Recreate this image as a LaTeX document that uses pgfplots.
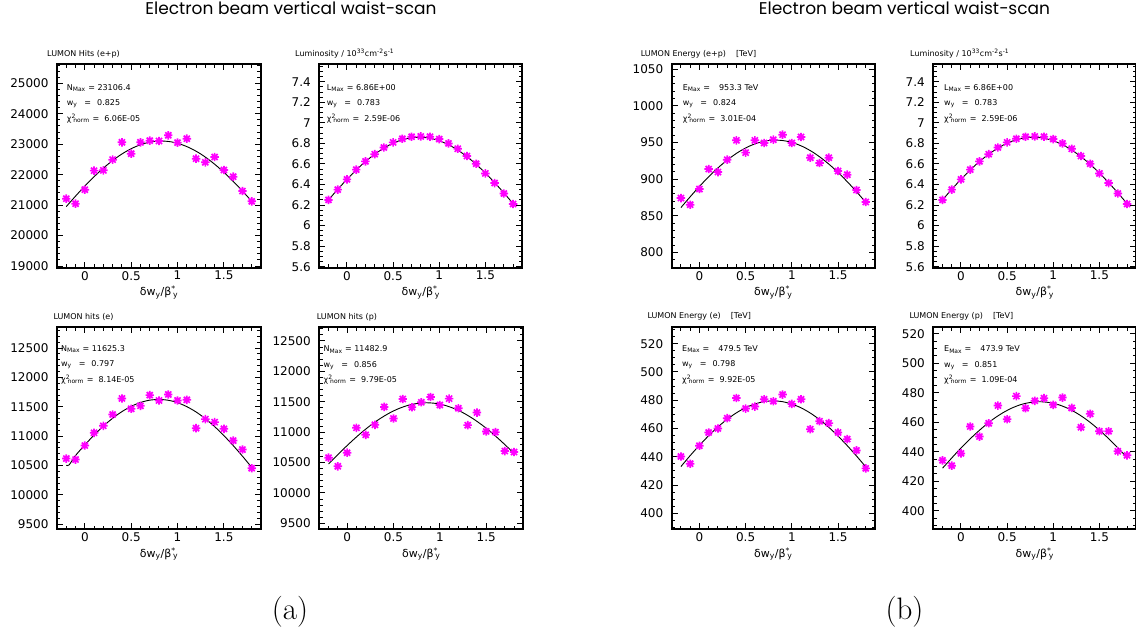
\documentclass[border=0pt]{standalone}
\usepackage{pgfplots}
\pgfplotsset{compat=1.18}
\usepackage{fontspec}
\newfontfamily\dv{DejaVu Sans}
\newfontfamily\pop{Poppins}
\definecolor{mag}{RGB}{255,0,255}

% eight-armed star, like the "*" marker of the original
\pgfdeclareplotmark{star8}{%
  \pgfpathmoveto{\pgfqpoint{-\pgfplotmarksize}{0pt}}%
  \pgfpathlineto{\pgfqpoint{\pgfplotmarksize}{0pt}}%
  \pgfpathmoveto{\pgfqpoint{0pt}{-\pgfplotmarksize}}%
  \pgfpathlineto{\pgfqpoint{0pt}{\pgfplotmarksize}}%
  \pgfpathmoveto{\pgfqpoint{-0.72\pgfplotmarksize}{-0.72\pgfplotmarksize}}%
  \pgfpathlineto{\pgfqpoint{0.72\pgfplotmarksize}{0.72\pgfplotmarksize}}%
  \pgfpathmoveto{\pgfqpoint{-0.72\pgfplotmarksize}{0.72\pgfplotmarksize}}%
  \pgfpathlineto{\pgfqpoint{0.72\pgfplotmarksize}{-0.72\pgfplotmarksize}}%
  \pgfusepathqstroke}

\pgfplotsset{
  panel/.style={
    scale only axis, anchor=north west,
    width=204pt, height=203.4pt,
    xmin=-0.3, xmax=1.9,
    xtick={0,0.5,1,1.5},
    minor xtick={-0.2,-0.1,0.1,0.2,0.3,0.4,0.6,0.7,0.8,0.9,1.1,1.2,1.3,1.4,1.6,1.7,1.8},
    tick align=inside, xtick pos=both, ytick pos=both,
    major tick length=6pt, minor tick length=3.5pt,
    tick style={black, line width=1pt},
    axis line style={line width=1.8pt},
    ticklabel style={font=\dv\fontsize{12}{12}\selectfont},
    yticklabel style={xshift=-5pt},
    /pgf/number format/assume math mode=true,
    /pgf/number format/1000 sep={},
    scaled ticks=false,
    xlabel={δw\textsubscript{y}/β\textsuperscript{*}\hspace{-2.6pt}\textsubscript{y}},
    xlabel style={font=\dv\fontsize{11}{11}\selectfont,
      at={(axis description cs:0.5,0)}, anchor=base, yshift=-28pt},
  },
  pts/.style={only marks, mark=star8, mark size=4.2pt, color=mag,
    mark options={line width=1.7pt}},
  fit/.style={black, line width=0.9pt, no marks, smooth},
}

% three lines of fit results inside a panel
\newcommand{\ann}[5]{%
  \node[anchor=base west, inner sep=0pt, font=\dv\fontsize{8}{8}\selectfont] at (#1pt,-#2pt) {#3};
  \node[anchor=base west, inner sep=0pt, font=\dv\fontsize{8}{8}\selectfont, yshift=-15.5pt] at (#1pt,-#2pt) {#4};
  \node[anchor=base west, inner sep=0pt, font=\dv\fontsize{8}{8}\selectfont, yshift=-31pt] at (#1pt,-#2pt) {#5};
}
\newcommand{\ptitle}[3]{%
  \node[anchor=base west, inner sep=0pt, font=\dv\fontsize{8}{8}\selectfont] at (#1pt,-#2pt) {#3};
}
\newcommand{\wy}[1]{w\textsubscript{y}\hspace{7pt}=\hspace{6pt}#1}
\newcommand{\chin}[1]{χ\textsuperscript{2}\hspace{-2.4pt}\textsubscript{norm}\hspace{3pt}=\hspace{5pt}#1}
\newcommand{\lumi}{Luminosity / 10\textsuperscript{33}cm\textsuperscript{-2}s\textsuperscript{-1}}
\newcommand{\lumimin}{5.65,5.7,5.75,5.85,5.9,5.95,6.05,6.1,6.15,6.25,6.3,6.35,6.45,6.5,6.55,6.65,6.7,6.75,6.85,6.9,6.95,7.05,7.1,7.15,7.25,7.3,7.35,7.45,7.5,7.55}

\begin{document}
\begin{tikzpicture}

% ---------------- (a) ----------------
\begin{axis}[panel, at={(57pt,-64.3pt)}, width=204pt,
  ymin=18945, ymax=25626, ytick={19000,20000,...,25000},
  minor ytick={19200,19400,...,25600}]
\addplot[pts] coordinates {
(-0.2,21212) (-0.1,21048) (0,21508) (0.1,22133) (0.2,22143) (0.3,22494)
(0.4,23064) (0.5,22691) (0.6,23064) (0.7,23118) (0.8,23107) (0.9,23294)
(1.0,23053) (1.1,23184) (1.2,22527) (1.3,22406) (1.4,22581) (1.5,22154)
(1.6,21935) (1.7,21464) (1.8,21125)};
\addplot[fit] coordinates {
(-0.2,20950) (-0.175,21039) (-0.075,21381) (0.025,21705) (0.125,22007)
(0.225,22281) (0.325,22523) (0.425,22727) (0.525,22890) (0.625,23009)
(0.725,23082) (0.825,23106) (0.925,23082) (1.025,23009) (1.125,22890)
(1.225,22727) (1.325,22523) (1.425,22281) (1.525,22007) (1.625,21705)
(1.725,21381) (1.8,21126)};
\end{axis}

\begin{axis}[panel, at={(319.3pt,-64.3pt)}, width=203pt,
  ymin=5.59, ymax=7.57, ytick={5.6,5.8,6,6.2,6.4,6.6,6.8,7,7.2,7.4},
  minor ytick=\lumimin]
\addplot[pts] coordinates {
(-0.2,6.250) (-0.1,6.350) (0,6.450) (0.1,6.545) (0.2,6.625) (0.3,6.695)
(0.4,6.760) (0.5,6.810) (0.6,6.845) (0.7,6.865) (0.8,6.868) (0.9,6.865)
(1.0,6.842) (1.1,6.800) (1.2,6.748) (1.3,6.677) (1.4,6.602) (1.5,6.508)
(1.6,6.414) (1.7,6.312) (1.8,6.210)};
\addplot[fit] coordinates {
(-0.2,6.250) (-0.117,6.336) (-0.017,6.434) (0.083,6.526) (0.183,6.610)
(0.283,6.683) (0.383,6.745) (0.483,6.795) (0.583,6.831) (0.683,6.853)
(0.783,6.860) (0.883,6.853) (0.983,6.831) (1.083,6.795) (1.183,6.745)
(1.283,6.683) (1.383,6.610) (1.483,6.526) (1.583,6.434) (1.683,6.336)
(1.783,6.232) (1.8,6.214)};
\end{axis}

\begin{axis}[panel, at={(57pt,-327pt)}, width=204pt, height=202.3pt,
  ymin=9415, ymax=12858, ytick={9500,10000,...,12500},
  minor ytick={9600,9700,...,12800}]
\addplot[pts] coordinates {
(-0.2,10619) (-0.1,10602) (0,10841) (0.1,11057) (0.2,11176) (0.3,11369)
(0.4,11642) (0.5,11466) (0.6,11517) (0.7,11699) (0.8,11608) (0.9,11710)
(1.0,11608) (1.1,11619) (1.2,11136) (1.3,11290) (1.4,11239) (1.5,11125)
(1.6,10926) (1.7,10773) (1.8,10455)};
\addplot[fit] coordinates {
(-0.2,10505) (-0.17,10510) (-0.103,10665) (-0.003,10846) (0.097,11014)
(0.197,11167) (0.297,11301) (0.397,11415) (0.497,11505) (0.597,11572)
(0.697,11612) (0.797,11625) (0.897,11612) (0.997,11572) (1.097,11505)
(1.197,11415) (1.297,11301) (1.397,11167) (1.497,11014) (1.597,10846)
(1.697,10665) (1.797,10475) (1.8,10472)};
\end{axis}

\begin{axis}[panel, at={(319.3pt,-327pt)}, width=204pt, height=202.3pt,
  ymin=9402, ymax=12729, ytick={9500,10000,...,12500},
  minor ytick={9600,9700,...,12700}]
\addplot[pts] coordinates {
(-0.2,10580) (-0.1,10438) (0,10662) (0.1,11071) (0.2,10956) (0.3,11120)
(0.4,11415) (0.5,11224) (0.6,11545) (0.7,11409) (0.8,11491) (0.9,11578)
(1.0,11447) (1.1,11551) (1.2,11393) (1.3,11115) (1.4,11322) (1.5,11011)
(1.6,11000) (1.7,10689) (1.8,10673)};
\addplot[fit] coordinates {
(-0.2,10476) (-0.144,10563) (-0.044,10715) (0.056,10859) (0.156,10994)
(0.256,11116) (0.356,11223) (0.456,11314) (0.556,11387) (0.656,11440)
(0.756,11472) (0.856,11483) (0.956,11472) (1.056,11440) (1.156,11387)
(1.256,11314) (1.356,11223) (1.456,11116) (1.556,10994) (1.656,10859)
(1.756,10715) (1.8,10649)};
\end{axis}

% ---------------- (b) ----------------
\begin{axis}[panel, at={(671.7pt,-64.3pt)}, width=203.3pt,
  ymin=779.1, ymax=1056.8, ytick={800,850,...,1050},
  minor ytick={780,790,...,1050}]
\addplot[pts] coordinates {
(-0.2,874.2) (-0.1,865.1) (0,886.5) (0.1,913.8) (0.2,909.7) (0.3,926.6)
(0.4,953.0) (0.5,936.2) (0.6,953.0) (0.7,949.4) (0.8,953.9) (0.9,960.7)
(1.0,949.4) (1.1,957.6) (1.2,929.3) (1.3,922.0) (1.4,929.3) (1.5,911.1)
(1.6,906.1) (1.7,885.2) (1.8,868.8)};
\addplot[fit] coordinates {
(-0.2,861.2) (-0.176,864.8) (-0.076,879.4) (0.024,893.3) (0.124,906.3)
(0.224,918.0) (0.324,928.3) (0.424,937.1) (0.524,944.1) (0.624,949.2)
(0.724,952.3) (0.824,953.3) (0.924,952.3) (1.024,949.2) (1.124,944.1)
(1.224,937.1) (1.324,928.3) (1.424,918.0) (1.524,906.3) (1.624,893.3)
(1.724,879.4) (1.8,868.3)};
\end{axis}

\begin{axis}[panel, at={(933.3pt,-64.3pt)}, width=203pt,
  ymin=5.59, ymax=7.57, ytick={5.6,5.8,6,6.2,6.4,6.6,6.8,7,7.2,7.4},
  minor ytick=\lumimin]
\addplot[pts] coordinates {
(-0.2,6.250) (-0.1,6.350) (0,6.450) (0.1,6.545) (0.2,6.625) (0.3,6.695)
(0.4,6.760) (0.5,6.810) (0.6,6.845) (0.7,6.865) (0.8,6.868) (0.9,6.865)
(1.0,6.842) (1.1,6.800) (1.2,6.748) (1.3,6.677) (1.4,6.602) (1.5,6.508)
(1.6,6.414) (1.7,6.312) (1.8,6.210)};
\addplot[fit] coordinates {
(-0.2,6.250) (-0.117,6.336) (-0.017,6.434) (0.083,6.526) (0.183,6.610)
(0.283,6.683) (0.383,6.745) (0.483,6.795) (0.583,6.831) (0.683,6.853)
(0.783,6.860) (0.883,6.853) (0.983,6.831) (1.083,6.795) (1.183,6.745)
(1.283,6.683) (1.383,6.610) (1.483,6.526) (1.583,6.434) (1.683,6.336)
(1.783,6.232) (1.8,6.214)};
\end{axis}

\begin{axis}[panel, at={(671.7pt,-327pt)}, width=203.3pt, height=202.3pt,
  ymin=388.7, ymax=531.8, ytick={400,420,...,520},
  minor ytick={390,395,...,530}]
\addplot[pts] coordinates {
(-0.2,440.2) (-0.1,435.1) (0,447.8) (0.1,457.2) (0.2,460.0) (0.3,467.3)
(0.4,481.6) (0.5,474.1) (0.6,475.5) (0.7,480.7) (0.8,479.3) (0.9,484.0)
(1.0,477.4) (1.1,480.7) (1.2,459.5) (1.3,465.2) (1.4,463.8) (1.5,457.2)
(1.6,452.5) (1.7,444.5) (1.8,431.8)};
\addplot[fit] coordinates {
(-0.2,433.1) (-0.102,440.7) (-0.002,448.0) (0.098,454.8) (0.198,461.0)
(0.298,466.4) (0.398,471.0) (0.498,474.7) (0.598,477.3) (0.698,479.0)
(0.798,479.5) (0.898,479.0) (0.998,477.3) (1.098,474.7) (1.198,471.0)
(1.298,466.4) (1.398,461.0) (1.498,454.8) (1.598,448.0) (1.698,440.7)
(1.798,433.0) (1.8,432.8)};
\end{axis}

\begin{axis}[panel, at={(933.3pt,-327pt)}, width=203pt, height=202.3pt,
  ymin=387.5, ymax=524.5, ytick={400,420,...,520},
  minor ytick={390,395,...,520}]
\addplot[pts] coordinates {
(-0.2,434.2) (-0.1,430.6) (0,438.9) (0.1,457.1) (0.2,450.3) (0.3,459.3)
(0.4,471.3) (0.5,462.0) (0.6,477.7) (0.7,469.5) (0.8,474.5) (0.9,476.3)
(1.0,471.8) (1.1,476.7) (1.2,469.7) (1.3,456.6) (1.4,465.7) (1.5,453.9)
(1.6,453.9) (1.7,440.3) (1.8,437.6)};
\addplot[fit] coordinates {
(-0.2,428.9) (-0.149,432.4) (-0.049,439.3) (0.051,445.8) (0.151,451.8)
(0.251,457.3) (0.351,462.2) (0.451,466.3) (0.551,469.6) (0.651,472.0)
(0.751,473.4) (0.851,473.9) (0.951,473.4) (1.051,472.0) (1.151,469.6)
(1.251,466.3) (1.351,462.2) (1.451,457.3) (1.551,451.8) (1.651,445.8)
(1.751,439.3) (1.8,435.8)};
\end{axis}

% panel titles
\ptitle{47}{56}{LUMON Hits (e+p)}
\ptitle{295}{56}{\lumi}
\ptitle{53.3}{319}{LUMON hits (e)}
\ptitle{316.7}{319}{LUMON hits (p)}
\ptitle{640.7}{56}{LUMON Energy (e+p)\hspace{10pt}[TeV]}
\ptitle{910}{56}{\lumi}
\ptitle{647.3}{318}{LUMON Energy (e)\hspace{10pt}[TeV]}
\ptitle{909.3}{318}{LUMON Energy (p)\hspace{10pt}[TeV]}

% fit results
\ann{66.7}{90}{N\textsubscript{Max} = 23106.4}{\wy{0.825}}{\chin{6.06E-05}}
\ann{326.7}{90}{L\textsubscript{Max} = 6.86E+00}{\wy{0.783}}{\chin{2.59E-06}}
\ann{61}{351}{N\textsubscript{Max} = 11625.3}{\wy{0.797}}{\chin{8.14E-05}}
\ann{323.5}{351.5}{N\textsubscript{Max} = 11482.9}{\wy{0.856}}{\chin{9.79E-05}}
\ann{682.7}{90}{E\textsubscript{Max} =\hspace{9pt}953.3 TeV}{\wy{0.824}}{\chin{3.01E-04}}
\ann{944}{90}{L\textsubscript{Max} = 6.86E+00}{\wy{0.783}}{\chin{2.59E-06}}
\ann{682}{351}{E\textsubscript{Max} =\hspace{9pt}479.5 TeV}{\wy{0.798}}{\chin{9.92E-05}}
\ann{944}{351.5}{E\textsubscript{Max} =\hspace{9pt}473.9 TeV}{\wy{0.851}}{\chin{1.09E-04}}

% figure titles, cut by the top edge
\node[anchor=base, inner sep=0pt, font=\pop\fontsize{17}{17}\selectfont] at (291pt,-14pt) {Electron beam vertical waist−scan};
\node[anchor=base, inner sep=0pt, font=\pop\fontsize{17}{17}\selectfont] at (904.5pt,-14pt) {Electron beam vertical waist−scan};

\node[anchor=base, inner sep=0pt, font=\fontsize{31}{31}\selectfont] at (290pt,-619pt) {(a)};
\node[anchor=base, inner sep=0pt, font=\fontsize{31}{31}\selectfont] at (904.5pt,-619pt) {(b)};

\pgfresetboundingbox
\path[use as bounding box] (0pt,0pt) rectangle (1136pt,-638pt);
\end{tikzpicture}
\end{document}
